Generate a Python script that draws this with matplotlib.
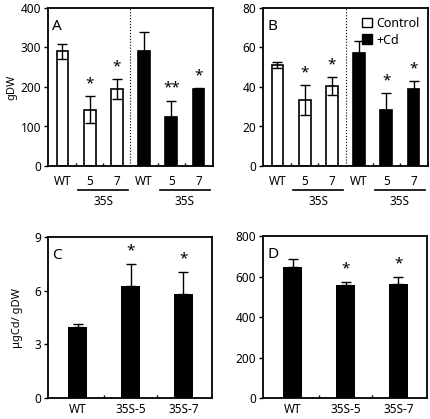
import numpy as np
import matplotlib.pyplot as plt
import matplotlib.transforms as mtransforms

plt.rc('font', family='Noto Sans', size=8)

#-------------------------------------------------------------------------------
#DATA

labels_ab = ['WT', '5', '7', 'WT', '5', '7']

#panel A (gDW)
a_ctrl = [290, 143, 195]
a_ctrl_err = [18, 33, 25]
a_cd = [290, 125, 195]
a_cd_err = [48, 40, 2]
a_stars = ['', '*', '*', '', '**', '*']

#panel B
b_ctrl = [51, 33.5, 40.5]
b_ctrl_err = [1.5, 7.5, 4.5]
b_cd = [57, 28.5, 39]
b_cd_err = [6.5, 8.5, 4]
b_stars = ['', '*', '*', '', '*', '*']

#panels C and D
labels_cd = ['WT', '35S-5', '35S-7']
c_vals = [3.95, 6.25, 5.8]
c_err = [0.18, 1.25, 1.25]
d_vals = [648, 560, 565]
d_err = [40, 15, 35]
cd_stars = ['', '*', '*']

#-------------------------------------------------------------------------------
#FUNCTIONS

W, H = 431, 419

def px_axes(fig, l, t, r, b):
    return fig.add_axes([l/W, 1 - b/H, (r - l)/W, (b - t)/H])

def style(ax, xpad):
    for s in ax.spines.values():
        s.set_linewidth(1.3)
    ax.tick_params(axis='y', direction='out', length=3, width=1, pad=2,
                   labelsize=8.5)
    ax.tick_params(axis='x', which='major', length=0, pad=xpad, labelsize=8.5)
    ax.tick_params(axis='x', which='minor', direction='in', length=2, width=1)

def add_stars(ax, x, tops, stars):
    for xi, t, s in zip(x, tops, stars):
        if s:
            ax.annotate(s, (xi, t), xytext=(0, 9), textcoords='offset points',
                        ha='center', va='center', fontsize=11)

def six_bars(ax, ctrl, ctrl_err, cd, cd_err, stars, ymax, step, letter):
    x = np.arange(6)
    w = 0.43
    ax.bar(x[:3], ctrl, w, color='white', edgecolor='black', linewidth=1.2,
           zorder=2)
    ax.errorbar(x[:3], ctrl, yerr=ctrl_err, fmt='none', ecolor='black',
                elinewidth=1, capsize=3.6, capthick=1, zorder=3)
    ax.bar(x[3:], cd, w, color='black', edgecolor='black', linewidth=1.2,
           zorder=2)
    ax.errorbar(x[3:], cd, yerr=[np.zeros(3), cd_err], fmt='none',
                ecolor='black', elinewidth=1, capsize=3.6, capthick=1, zorder=3)
    tops = list(np.add(ctrl, ctrl_err)) + list(np.add(cd, cd_err))
    add_stars(ax, x, tops, stars)
    ax.axvline(2.5, color='black', linestyle=':', linewidth=0.8)
    ax.set_xlim(-0.53, 5.53)
    ax.set_ylim(0, ymax)
    ax.set_yticks(np.arange(0, ymax + step/2, step))
    ax.set_xticks(x)
    ax.set_xticklabels(labels_ab)
    ax.set_xticks([0.5, 1.5, 3.5, 4.5], minor=True)
    style(ax, 6.5)
    ax.text(0.025, 0.93, letter, transform=ax.transAxes, ha='left', va='top',
            fontsize=11)
    trans = mtransforms.blended_transform_factory(ax.transData, ax.transAxes)
    for x0 in (1, 4):
        ax.plot([x0 - 0.42, x0 + 1.42], [-0.152, -0.152], color='black',
                linewidth=1.2, transform=trans, clip_on=False)
        ax.text(x0 + 0.5, -0.185, '35S', ha='center', va='top', fontsize=8.5,
                transform=trans)

def three_bars(ax, vals, err, ymax, step, letter):
    x = np.arange(3)
    ax.bar(x, vals, 0.37, color='black', zorder=2)
    ax.errorbar(x, vals, yerr=[np.zeros(3), err], fmt='none', ecolor='black',
                elinewidth=1, capsize=3.6, capthick=1, zorder=3)
    add_stars(ax, x, np.add(vals, err), cd_stars)
    ax.set_xlim(-0.56, 2.54)
    ax.set_ylim(0, ymax)
    ax.set_yticks(np.arange(0, ymax + step/2, step))
    ax.set_xticks(x)
    ax.set_xticklabels(labels_cd)
    ax.set_xticks([0.5, 1.5], minor=True)
    style(ax, 3.5)
    ax.text(0.025, 0.93, letter, transform=ax.transAxes, ha='left', va='top',
            fontsize=11)

#-------------------------------------------------------------------------------
#MAIN

fig = plt.figure(figsize=(W/100, H/100), dpi=100)

axA = px_axes(fig, 48, 8, 213, 166)
six_bars(axA, a_ctrl, a_ctrl_err, a_cd, a_cd_err, a_stars, 400, 100, 'A')
axA.set_ylabel('gDW', fontsize=8, labelpad=2)

axB = px_axes(fig, 263, 8, 428, 166)
six_bars(axB, b_ctrl, b_ctrl_err, b_cd, b_cd_err, b_stars, 80, 20, 'B')
h1 = plt.Rectangle((0, 0), 1, 1, facecolor='white', edgecolor='black')
h2 = plt.Rectangle((0, 0), 1, 1, facecolor='black', edgecolor='black')
axB.legend([h1, h2], ['Control', '+Cd'], loc='upper right', frameon=False,
           handlelength=0.8, handleheight=0.8, handletextpad=0.3,
           labelspacing=0.3, borderaxespad=0.3, fontsize=9)

axC = px_axes(fig, 48, 237, 212, 398)
three_bars(axC, c_vals, c_err, 9, 3, 'C')
axC.set_ylabel('\u03bcgCd/ gDW', fontsize=8, labelpad=8)

axD = px_axes(fig, 263, 236, 427, 398)
three_bars(axD, d_vals, d_err, 800, 200, 'D')

plt.savefig('out.png', dpi=100)
